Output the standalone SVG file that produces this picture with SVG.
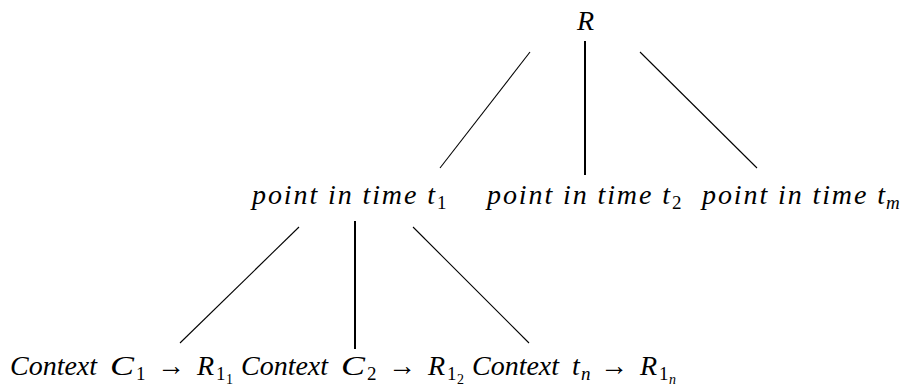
<svg xmlns="http://www.w3.org/2000/svg" width="904" height="389" viewBox="0 0 904 389">
<style>
.d{stroke:#000;stroke-width:1.1;fill:none}
.v{stroke:#000;stroke-width:2;fill:none}
</style>
<rect width="904" height="389" fill="#fff"/>
<g id="connectors">
<line class="d" x1="530" y1="52" x2="440" y2="168"/>
<line class="v" x1="585" y1="41" x2="585" y2="175"/>
<line class="d" x1="640" y1="52" x2="757" y2="168"/>
<line class="d" x1="299" y1="227" x2="180" y2="343"/>
<line class="v" x1="355" y1="221" x2="355" y2="349"/>
<line class="d" x1="413" y1="227" x2="529" y2="343"/>
</g>
<g id="nR"><text x="577" y="30" font-family="Liberation Serif" font-style="italic" font-size="28">R</text></g>
<g id="nt1"><text font-family="Liberation Serif" font-style="italic" font-size="28"><tspan x="252" y="204" textLength="183" lengthAdjust="spacing">point in time t</tspan><tspan font-style="normal" font-size="19" x="437" y="209">1</tspan></text></g>
<g id="nt2"><text font-family="Liberation Serif" font-style="italic" font-size="28"><tspan x="487" y="204" textLength="183" lengthAdjust="spacing">point in time t</tspan><tspan font-style="normal" font-size="19" x="672" y="209">2</tspan></text></g>
<g id="ntm"><text font-family="Liberation Serif" font-style="italic" font-size="28"><tspan x="702" y="204" textLength="183" lengthAdjust="spacing">point in time t</tspan><tspan font-size="19" x="886" y="209">m</tspan></text></g>
<g id="nc1"><text font-family="Liberation Serif" font-style="italic" font-size="28"><tspan x="10" y="375" textLength="87" lengthAdjust="spacing">Context</tspan><tspan x="110" y="375" textLength="24" lengthAdjust="spacingAndGlyphs">C</tspan><tspan font-style="normal" font-size="19" x="136" y="380">1</tspan><tspan font-style="normal" x="157" y="375" textLength="28" lengthAdjust="spacingAndGlyphs">→</tspan><tspan x="197" y="375">R</tspan><tspan font-style="normal" font-size="19" x="216" y="380">1</tspan><tspan font-style="normal" font-size="14" x="226" y="384">1</tspan></text></g>
<g id="nc2"><text font-family="Liberation Serif" font-style="italic" font-size="28"><tspan x="241" y="375" textLength="87" lengthAdjust="spacing">Context</tspan><tspan x="341" y="375" textLength="24" lengthAdjust="spacingAndGlyphs">C</tspan><tspan font-style="normal" font-size="19" x="367" y="380">2</tspan><tspan font-style="normal" x="388" y="375" textLength="28" lengthAdjust="spacingAndGlyphs">→</tspan><tspan x="428" y="375">R</tspan><tspan font-style="normal" font-size="19" x="447" y="380">1</tspan><tspan font-style="normal" font-size="14" x="457" y="384">2</tspan></text></g>
<g id="ncn"><text font-family="Liberation Serif" font-style="italic" font-size="28"><tspan x="472" y="375" textLength="87" lengthAdjust="spacing">Context</tspan><tspan x="572" y="375">t</tspan><tspan font-size="19" x="581" y="380">n</tspan><tspan font-style="normal" x="600" y="375" textLength="28" lengthAdjust="spacingAndGlyphs">→</tspan><tspan x="640" y="375">R</tspan><tspan font-style="normal" font-size="19" x="659" y="380">1</tspan><tspan font-size="14" x="669" y="384">n</tspan></text></g>
</svg>
